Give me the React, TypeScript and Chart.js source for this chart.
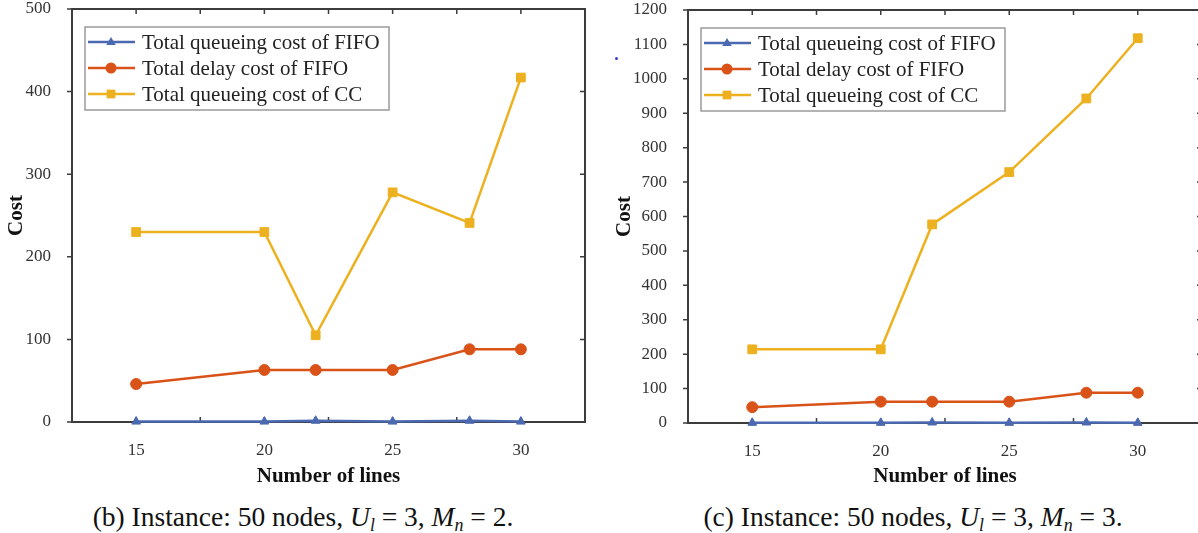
import React, { useEffect, useRef } from "react";
import { Chart, registerables } from "chart.js";

Chart.register(...registerables);

// ---------- data ----------
const xValues = [15, 20, 22, 25, 28, 30];
const xTickValues = [15, 20, 25, 30];
const xMinorTicks = [15, 17.5, 20, 22.5, 25, 27.5, 30];
const seriesLabels = [
  "Total queueing cost of FIFO",
  "Total delay cost of FIFO",
  "Total queueing cost of CC",
];

// (b) Instance: 50 nodes, Ul = 3, Mn = 2
const fifoQueueB = [0.5, 0.5, 1.5, 0.5, 1.5, 0.5];
const fifoDelayB = [46, 63, 63, 63, 88, 88];
const ccQueueB = [230, 230, 105, 278, 241, 417];
const yMaxB = 500;

// (c) Instance: 50 nodes, Ul = 3, Mn = 3
const fifoQueueC = [0.5, 0.5, 1.5, 0.5, 1.5, 0.5];
const fifoDelayC = [46, 62, 62, 62, 88, 88];
const ccQueueC = [214, 214, 577, 729, 943, 1118];
const yMaxC = 1200;

const yStep = 100;
const xMin = 12.5;
const xMax = 32.5;

const COLORS = ["#4a69b0", "#d95319", "#edb120"];
const MARKERS = ["triangle", "circle", "rect"];
const RADII = [5, 5.5, 6.2];
const FONT = "'Liberation Serif', 'Times New Roman', serif";

function makeDatasets(series: number[][]) {
  return series.map((arr, k) => ({
    label: seriesLabels[k],
    data: xValues.map((x, i) => ({ x, y: arr[i] })),
    borderColor: COLORS[k],
    backgroundColor: COLORS[k],
    pointBackgroundColor: COLORS[k],
    pointBorderColor: COLORS[k],
    pointStyle: MARKERS[k],
    pointRadius: RADII[k],
    pointBorderWidth: 1,
    borderWidth: 2.5,
    tension: 0,
    clip: false as any,
    order: 3 - k,
  }));
}

const framePlugin = {
  id: "frame",
  beforeDatasetsDraw(chart: any) {
    const { ctx, chartArea: a, scales } = chart;
    ctx.save();
    ctx.strokeStyle = "#3c3c3c";
    ctx.lineWidth = 2;
    ctx.strokeRect(a.left, a.top, a.right - a.left, a.bottom - a.top);
    ctx.lineWidth = 1.5;
    ctx.beginPath();
    for (const t of scales.y.ticks) {
      const y = scales.y.getPixelForValue(t.value);
      ctx.moveTo(a.left - 5, y);
      ctx.lineTo(a.left, y);
      ctx.moveTo(a.right - 5, y);
      ctx.lineTo(a.right, y);
    }
    for (const v of xMinorTicks) {
      const x = scales.x.getPixelForValue(v);
      ctx.moveTo(x, a.top);
      ctx.lineTo(x, a.top + 5);
      ctx.moveTo(x, a.bottom);
      ctx.lineTo(x, a.bottom - 5);
    }
    ctx.stroke();
    ctx.restore();
  },
};

const legendPlugin = {
  id: "boxLegend",
  afterDatasetsDraw(chart: any) {
    const { ctx, chartArea: a } = chart;
    const bx = a.left + 13;
    const by = a.top + 18;
    const bw = 304;
    const bh = 83;
    ctx.save();
    ctx.fillStyle = "#ffffff";
    ctx.fillRect(bx, by, bw, bh);
    ctx.strokeStyle = "#9a9a9a";
    ctx.lineWidth = 1.5;
    ctx.strokeRect(bx, by, bw, bh);
    chart.data.datasets.forEach((ds: any, i: number) => {
      const y = by + 15 + i * 26;
      ctx.strokeStyle = ds.borderColor;
      ctx.lineWidth = 2.5;
      ctx.beginPath();
      ctx.moveTo(bx + 3, y);
      ctx.lineTo(bx + 50, y);
      ctx.stroke();
      ctx.fillStyle = ds.borderColor;
      const r = ds.pointRadius;
      ctx.beginPath();
      if (ds.pointStyle === "circle") {
        ctx.arc(bx + 26, y, r, 0, Math.PI * 2);
      } else if (ds.pointStyle === "rect") {
        const s = r * Math.SQRT1_2;
        ctx.rect(bx + 26 - s, y - s, 2 * s, 2 * s);
      } else {
        ctx.moveTo(bx + 26, y - r);
        ctx.lineTo(bx + 26 + r * 0.95, y + r * 0.6);
        ctx.lineTo(bx + 26 - r * 0.95, y + r * 0.6);
        ctx.closePath();
      }
      ctx.fill();
      ctx.fillStyle = "#222";
      ctx.font = `21px ${FONT}`;
      ctx.textBaseline = "middle";
      ctx.textAlign = "left";
      ctx.fillText(ds.label, bx + 57, y + 1);
    });
    ctx.restore();
  },
};

type PanelProps = {
  left: number;
  width: number;
  yMax: number;
  series: number[][];
  yAxisWidth: number;
  padTop: number;
  padRight: number;
  xAxisHeight: number;
  yTitlePad: number;
};

function Panel(p: PanelProps) {
  const ref = useRef<HTMLCanvasElement>(null);
  useEffect(() => {
    if (!ref.current) return;
    const chart = new Chart(ref.current, {
      type: "line",
      data: { datasets: makeDatasets(p.series) as any },
      options: {
        animation: false,
        responsive: false,
        devicePixelRatio: 1,
        layout: { padding: { top: p.padTop, right: p.padRight, left: 0, bottom: 0 } },
        plugins: { legend: { display: false }, tooltip: { enabled: false } },
        scales: {
          x: {
            type: "linear",
            min: xMin,
            max: xMax,
            grid: { display: false },
            border: { display: false },
            afterBuildTicks: (s: any) => {
              s.ticks = xTickValues.map((v) => ({ value: v }));
            },
            afterFit: (s: any) => {
              s.height = p.xAxisHeight;
              s.paddingLeft = 0;
              s.paddingRight = 0;
            },
            ticks: {
              autoSkip: false,
              maxRotation: 0,
              padding: 10,
              color: "#333",
              font: { family: FONT, size: 17 },
              callback: (v: any) => String(v),
            },
            title: {
              display: true,
              text: "Number of lines",
              color: "#111",
              font: { family: FONT, size: 21, weight: "bold" },
              padding: { top: 0, bottom: 11 },
            },
          },
          y: {
            type: "linear",
            min: 0,
            max: p.yMax,
            grid: { display: false },
            border: { display: false },
            afterFit: (s: any) => {
              s.width = p.yAxisWidth;
              s.paddingTop = 0;
              s.paddingBottom = 0;
            },
            ticks: {
              stepSize: yStep,
              padding: 13,
              color: "#333",
              font: { family: FONT, size: 17 },
              callback: (v: any) => String(v),
            },
            title: {
              display: true,
              text: "Cost",
              color: "#111",
              font: { family: FONT, size: 21, weight: "bold" },
              padding: { top: p.yTitlePad, bottom: 0 },
            },
          },
        },
      },
      plugins: [framePlugin, legendPlugin],
    });
    return () => chart.destroy();
  }, []);
  return (
    <canvas
      ref={ref}
      width={p.width}
      height={500}
      style={{ position: "absolute", left: p.left, top: 0, width: p.width, height: 500 }}
    />
  );
}

const captionStyle: React.CSSProperties = {
  position: "absolute",
  top: 500,
  height: 34,
  lineHeight: "34px",
  fontFamily: FONT,
  fontSize: 27.5,
  color: "#111",
  whiteSpace: "nowrap",
  transform: "translateX(-50%)",
};
const subStyle: React.CSSProperties = {
  fontSize: "0.65em",
  verticalAlign: "-0.3em",
  lineHeight: 0,
  fontStyle: "italic",
};

export default function App() {
  return (
    <div
      style={{
        position: "fixed",
        left: 0,
        top: 0,
        width: 1198,
        height: 533,
        overflow: "hidden",
        background: "#fff",
      }}
    >
      <Panel
        left={0}
        width={600}
        yMax={yMaxB}
        series={[fifoQueueB, fifoDelayB, ccQueueB]}
        yAxisWidth={72}
        padTop={9}
        padRight={15}
        xAxisHeight={78}
        yTitlePad={4}
      />
      <Panel
        left={600}
        width={612}
        yMax={yMaxC}
        series={[fifoQueueC, fifoDelayC, ccQueueC]}
        yAxisWidth={88}
        padTop={10}
        padRight={10}
        xAxisHeight={77}
        yTitlePad={12}
      />
      <div style={{ position: "absolute", left: 615, top: 57, width: 3, height: 3, borderRadius: 2, background: "#3a3ad0" }} />
      <div style={{ ...captionStyle, left: 303 }}>
        (b) Instance: 50 nodes, <i>U</i>
        <span style={subStyle}>l</span> = 3, <i>M</i>
        <span style={subStyle}>n</span> = 2.
      </div>
      <div style={{ ...captionStyle, left: 913 }}>
        (c) Instance: 50 nodes, <i>U</i>
        <span style={subStyle}>l</span> = 3, <i>M</i>
        <span style={subStyle}>n</span> = 3.
      </div>
    </div>
  );
}
